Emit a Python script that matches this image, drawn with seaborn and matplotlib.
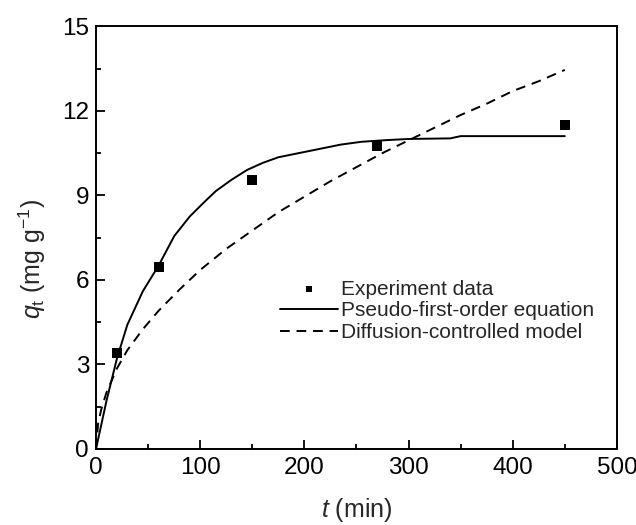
import matplotlib
matplotlib.use("Agg")
import matplotlib.pyplot as plt
import seaborn as sns
from matplotlib.ticker import MultipleLocator

# experiment points
t_exp = [20, 60, 150, 270, 450]
q_exp = [3.4, 6.45, 9.55, 10.75, 11.5]

# pseudo-first-order fit
t_pfo = [0, 5, 10, 20, 30, 45, 60, 75, 90, 105, 115, 130, 145, 160, 175, 195, 215, 235, 255, 275, 300, 340, 350, 400, 450]
q_pfo = [0, 0.85, 1.7, 3.2, 4.4, 5.6, 6.5, 7.55, 8.25, 8.8, 9.15, 9.55, 9.9, 10.15, 10.35, 10.5, 10.65, 10.8, 10.9, 10.95, 11.0, 11.02, 11.1, 11.1, 11.1]

# diffusion-controlled model
t_dif = [0, 2, 5, 10, 20, 30, 45, 60, 80, 100, 125, 150, 175, 200, 225, 250, 275, 300, 325, 350, 375, 400, 425, 450]
q_dif = [0, 0.9, 1.4, 2.0, 2.85, 3.5, 4.25, 4.9, 5.65, 6.35, 7.1, 7.75, 8.4, 8.95, 9.5, 10.0, 10.5, 10.95, 11.4, 11.85, 12.25, 12.7, 13.05, 13.45]

sns.set_theme(style="ticks")
plt.rcParams['font.family'] = ['Liberation Sans', 'DejaVu Sans']
plt.rcParams['mathtext.fontset'] = 'custom'
plt.rcParams['mathtext.rm'] = 'Liberation Sans'
plt.rcParams['mathtext.it'] = 'Liberation Sans:italic'

fig = plt.figure(figsize=(6.36, 5.25), dpi=100)
ax = fig.add_axes([0.151, 0.145, 0.819, 0.805])

sns.lineplot(x=t_pfo, y=q_pfo, ax=ax, color='black', lw=1.4, sort=False,
             estimator=None, label='Pseudo-first-order equation')
sns.lineplot(x=t_dif, y=q_dif, ax=ax, color='black', lw=1.4, sort=False,
             estimator=None, label='Diffusion-controlled model')
ax.lines[-1].set_dashes((5, 3.5))
sns.scatterplot(x=t_exp, y=q_exp, ax=ax, color='black', marker='s', s=45,
                edgecolor='black', linewidth=0, label='Experiment data', zorder=5)

ax.set_xlim(0, 500)
ax.set_ylim(0, 15)
ax.xaxis.set_major_locator(MultipleLocator(100))
ax.xaxis.set_minor_locator(MultipleLocator(50))
ax.yaxis.set_major_locator(MultipleLocator(3))
ax.yaxis.set_minor_locator(MultipleLocator(1.5))
ax.tick_params(which='both', direction='in', width=1.3, colors='black', labelsize=17.5,
               top=False, right=False)
ax.tick_params(axis='x', which='major', pad=6)
ax.tick_params(axis='y', which='major', pad=5)
ax.tick_params(which='major', length=6.5)
ax.tick_params(which='minor', length=3.6)
for s in ax.spines.values():
    s.set_linewidth(1.4)
    s.set_color('black')

ax.set_xlabel(r'$t$ (min)', fontsize=18)
ax.set_ylabel(r'$q_{\mathrm{t}}$ (mg g$^{-1}$)', fontsize=18)
ax.xaxis.set_label_coords(0.5, -0.112)
ax.yaxis.set_label_coords(-0.093, 0.45)

h, l = ax.get_legend_handles_labels()
order = [2, 0, 1]
leg = ax.legend([h[i] for i in order], [l[i] for i in order], loc='upper left',
                bbox_to_anchor=(0.354, 0.40), frameon=False, fontsize=15,
                borderpad=0, borderaxespad=0,
                handlelength=2.75, handletextpad=0.15, labelspacing=0.12, markerscale=0.75)

fig.savefig('out.png', dpi=100)
